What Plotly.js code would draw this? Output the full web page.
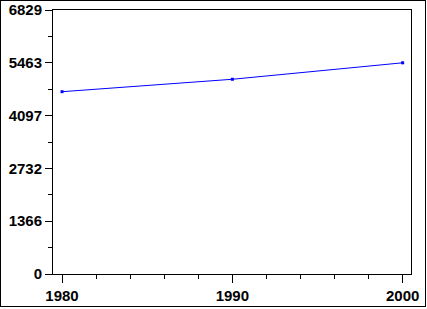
<!DOCTYPE html>
<html>
<head>
<meta charset="utf-8">
<script src="https://cdn.plot.ly/plotly-3.0.1.min.js"></script>
<style>
html,body{margin:0;padding:0;background:#fff;}
#wrap{position:relative;width:427px;height:309px;}
#chart{position:absolute;left:0;top:0;width:427px;height:309px;}
#frame{position:absolute;left:0;top:0;width:426px;height:307px;border:1px solid #000;box-sizing:border-box;pointer-events:none;}
</style>
</head>
<body>
<div id="wrap"><div id="chart"></div><div id="frame"></div></div>
<script>
var years = [1980, 1990, 2000];
var values = [4716, 5037, 5463];
var yTickVals = [0, 1365.8, 2731.6, 4097.4, 5463.2, 6829];
var yTickText = ['0', '1366', '2732', '4097', '5463', '6829'];
var xTickVals = [1980, 1990, 2000];
var xTickText = ['1980', '1990', '2000'];

var trace = {
  x: years, y: values, type: 'scatter', mode: 'lines+markers',
  line: {color: '#0000ff', width: 1},
  marker: {color: '#0000ff', size: 3, symbol: 'square'},
  hoverinfo: 'none'
};
var font = {family: 'Liberation Sans, Arial, sans-serif', size: 15, color: '#000', weight: 'bold'};
var layout = {
  width: 427, height: 309,
  margin: {l: 53, r: 16, t: 10, b: 35, pad: 0},
  paper_bgcolor: '#fff', plot_bgcolor: '#fff',
  showlegend: false,
  font: font,
  xaxis: {
    range: [1979.47, 2000.49], showgrid: false, zeroline: false,
    showline: true, mirror: true, linecolor: '#000', linewidth: 1,
    tickmode: 'array', tickvals: xTickVals, ticktext: xTickText,
    ticks: 'outside', ticklen: 8, tickcolor: '#000', tickwidth: 1,
    tickfont: font,
    minor: {tickmode: 'linear', tick0: 1980, dtick: 2, ticks: 'outside', ticklen: 4, tickcolor: '#000', tickwidth: 1, showgrid: false}
  },
  yaxis: {
    range: [0, 6829], showgrid: false, zeroline: false,
    showline: true, mirror: true, linecolor: '#000', linewidth: 1,
    tickmode: 'array', tickvals: yTickVals, ticktext: yTickText,
    ticks: 'outside', ticklen: 7, tickcolor: '#000', tickwidth: 1,
    tickfont: font,
    minor: {tickmode: 'linear', tick0: 0, dtick: 682.9, ticks: 'outside', ticklen: 4, tickcolor: '#000', tickwidth: 1, showgrid: false}
  }
};
Plotly.newPlot('chart', [trace], layout, {staticPlot: true, displayModeBar: false});
</script>
</body>
</html>
